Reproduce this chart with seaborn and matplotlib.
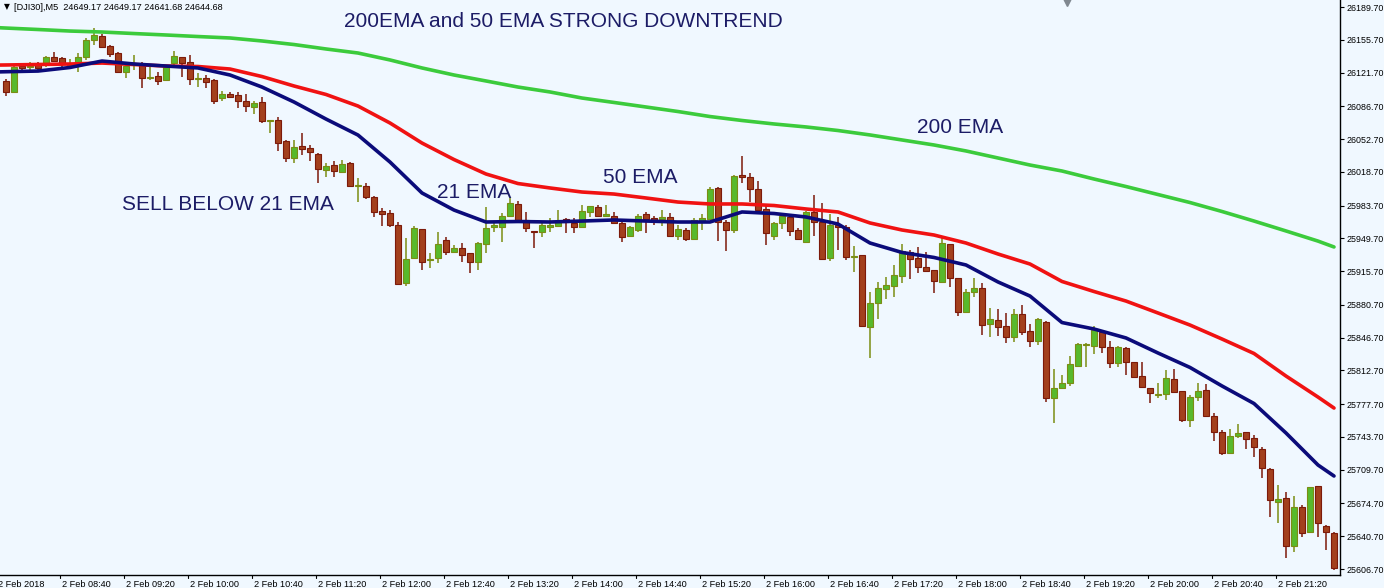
import numpy as np
import pandas as pd
import matplotlib
matplotlib.use("Agg")
import matplotlib.pyplot as plt
import matplotlib.transforms as mtransforms
import seaborn as sns

# ---------------- data (DJI30, M5, 2 Feb 2018) ----------------
opens = [26113.3, 26101.9, 26128.5, 26127.5, 26130.6, 26130.3, 26138.2, 26136.5, 26129.0, 26131.3,
         26137.6, 26155.5, 26159.7, 26149.3, 26141.7, 26122.0, 26129.8, 26129.6, 26116.3, 26118.2,
         26114.0, 26131.3, 26137.6, 26132.4, 26115.3, 26115.8, 26114.0, 26095.0, 26099.5, 26098.4,
         26092.2, 26086.3, 26090.9, 26071.0, 26072.5, 26050.7, 26032.8, 26045.5, 26043.2, 26036.9,
         26020.6, 26025.8, 26018.9, 26028.2, 26003.8, 26004.4, 25992.3, 25978.1, 25975.7, 25963.6,
         25903.1, 25929.0, 25959.1, 25927.5, 25929.0, 25948.0, 25935.3, 25939.4, 25934.2, 25924.9,
         25943.6, 25961.8, 25961.8, 25972.9, 25985.4, 25968.8, 25957.4, 25956.6, 25961.8, 25962.5,
         25969.5, 25965.9, 25961.2, 25977.4, 25981.9, 25973.4, 25973.2, 25965.9, 25952.5, 25958.4,
         25975.0, 25971.2, 25970.3, 25971.6, 25952.5, 25958.4, 25949.1, 25967.7, 25969.8, 26001.7,
         25967.0, 25958.4, 26015.5, 26013.7, 26000.6, 25979.9, 25952.5, 25965.4, 25972.2, 25958.4,
         25946.3, 25977.4, 25967.0, 25929.0, 25963.6, 25961.2, 25930.9, 25932.5, 25858.1, 25882.4,
         25897.2, 25900.6, 25911.0, 25935.9, 25929.0, 25919.7, 25916.9, 25904.8, 25943.9, 25908.3,
         25873.0, 25893.8, 25897.9, 25860.6, 25865.0, 25858.8, 25847.1, 25870.9, 25853.6, 25843.6,
         25863.3, 25783.8, 25794.8, 25799.4, 25817.6, 25839.3, 25838.4, 25852.9, 25836.7, 25820.1,
         25835.7, 25821.2, 25806.9, 25794.2, 25787.4, 25788.3, 25803.5, 25791.4, 25761.3, 25784.8,
         25792.4, 25765.7, 25748.5, 25727.4, 25745.0, 25748.5, 25742.3, 25730.9, 25710.1, 25676.5,
         25680.1, 25630.9, 25671.3, 25644.8, 25692.8, 25651.6, 25643.7]
highs = [26115.0, 26129.6, 26131.6, 26133.0, 26132.7, 26139.2, 26142.7, 26137.6, 26135.5, 26141.7,
         26157.6, 26168.3, 26161.7, 26150.3, 26143.4, 26131.3, 26139.9, 26133.0, 26127.8, 26122.6,
         26129.6, 26144.1, 26138.2, 26139.9, 26121.6, 26119.2, 26115.0, 26102.9, 26101.9, 26101.9,
         26099.5, 26092.2, 26096.7, 26072.5, 26075.3, 26051.8, 26051.8, 26058.7, 26046.6, 26038.0,
         26028.2, 26030.0, 26031.0, 26029.3, 26012.0, 26006.8, 25993.7, 25980.9, 25979.1, 25967.0,
         25949.8, 25962.6, 25959.1, 25934.2, 25956.6, 25951.4, 25942.8, 25945.2, 25934.8, 25946.3,
         25982.6, 25967.0, 25976.3, 25991.3, 25988.5, 25977.4, 25957.4, 25965.4, 25970.8, 25979.1,
         25970.5, 25970.5, 25984.3, 25983.3, 25984.3, 25984.3, 25977.4, 25968.8, 25962.5, 25974.7,
         25977.4, 25972.9, 25979.1, 25975.7, 25963.6, 25960.2, 25970.5, 25975.0, 26003.3, 26003.3,
         25968.8, 26015.5, 26035.2, 26017.2, 26009.5, 25984.3, 25967.0, 25975.7, 25974.0, 25960.2,
         25978.4, 25994.7, 25986.7, 25975.0, 25971.6, 25963.6, 25941.8, 25932.5, 25894.4, 25904.8,
         25909.3, 25922.1, 25943.9, 25937.7, 25940.4, 25935.9, 25916.9, 25949.8, 25943.9, 25908.3,
         25897.2, 25908.3, 25903.7, 25877.2, 25876.1, 25872.0, 25876.4, 25880.6, 25860.9, 25866.8,
         25864.3, 25814.2, 25808.0, 25827.7, 25841.2, 25840.9, 25858.8, 25854.7, 25843.6, 25838.1,
         25836.7, 25821.8, 25821.8, 25794.2, 25800.0, 25813.2, 25813.9, 25791.4, 25787.2, 25800.0,
         25798.6, 25768.9, 25750.9, 25751.6, 25757.1, 25749.2, 25745.7, 25733.0, 25711.2, 25693.9,
         25686.9, 25682.5, 25673.1, 25692.1, 25692.8, 25652.4, 25645.4]
lows = [26097.7, 26101.6, 26124.4, 26124.4, 26124.4, 26127.8, 26133.0, 26124.4, 26126.1, 26122.6,
        26134.8, 26150.3, 26147.2, 26138.2, 26121.0, 26116.4, 26124.4, 26105.4, 26114.0, 26108.8,
        26113.0, 26126.1, 26117.4, 26108.8, 26107.1, 26105.4, 26088.8, 26092.2, 26095.0, 26084.6,
        26081.1, 26078.7, 26069.1, 26059.3, 26040.4, 26029.2, 26027.6, 26036.2, 26030.3, 26006.8,
        26013.1, 26013.1, 26018.6, 26002.7, 25987.8, 25990.2, 25971.6, 25962.9, 25961.8, 25901.3,
        25900.3, 25928.3, 25916.9, 25918.7, 25923.9, 25932.5, 25934.2, 25925.5, 25913.5, 25916.9,
        25934.2, 25956.6, 25946.3, 25972.2, 25968.0, 25956.6, 25939.4, 25950.8, 25956.6, 25961.2,
        25955.6, 25955.6, 25960.2, 25972.2, 25972.2, 25972.2, 25965.3, 25946.3, 25951.4, 25956.6,
        25955.0, 25963.6, 25962.5, 25951.4, 25948.0, 25947.3, 25948.0, 25958.4, 25968.8, 25947.3,
        25936.9, 25955.6, 26007.5, 25987.8, 25977.4, 25942.8, 25948.0, 25959.1, 25952.2, 25948.0,
        25945.2, 25952.2, 25927.3, 25926.6, 25937.7, 25927.3, 25915.1, 25858.3, 25825.3, 25865.8,
        25886.5, 25888.6, 25903.7, 25907.3, 25913.5, 25915.1, 25892.7, 25903.1, 25899.0, 25869.5,
        25871.8, 25888.6, 25849.5, 25847.1, 25848.4, 25841.5, 25842.2, 25849.5, 25837.3, 25839.1,
        25780.3, 25757.9, 25794.2, 25796.6, 25816.8, 25816.0, 25829.8, 25830.5, 25814.9, 25816.6,
        25808.0, 25804.9, 25794.2, 25778.6, 25783.8, 25782.0, 25789.0, 25758.9, 25753.7, 25781.3,
        25764.7, 25739.8, 25725.0, 25726.0, 25742.3, 25730.9, 25722.6, 25700.8, 25661.0, 25654.1,
        25617.8, 25624.7, 25640.2, 25643.7, 25639.6, 25626.4, 25605.7]
closes = [26101.9, 26127.8, 26126.5, 26128.5, 26126.1, 26137.6, 26134.0, 26130.6, 26130.1, 26137.6,
          26155.5, 26160.7, 26148.6, 26140.7, 26122.0, 26128.5, 26130.8, 26115.8, 26117.3, 26113.0,
          26127.8, 26138.9, 26132.0, 26114.7, 26116.3, 26112.2, 26092.2, 26099.5, 26096.7, 26092.2,
          26087.3, 26090.5, 26071.8, 26072.0, 26048.3, 26032.8, 26044.2, 26042.4, 26039.0, 26021.4,
          26024.5, 26019.9, 26026.9, 26004.0, 26004.9, 25993.0, 25976.8, 25974.7, 25963.6, 25902.4,
          25928.3, 25960.8, 25925.5, 25928.5, 25943.6, 25935.9, 25940.0, 25932.5, 25924.9, 25944.6,
          25960.2, 25963.6, 25972.9, 25986.7, 25968.8, 25960.2, 25956.0, 25963.6, 25963.6, 25968.0,
          25967.0, 25961.8, 25978.4, 25983.3, 25973.2, 25974.5, 25965.9, 25951.4, 25961.2, 25972.9,
          25969.8, 25968.8, 25971.4, 25952.5, 25959.1, 25949.1, 25968.8, 25971.2, 26000.9, 25967.0,
          25958.4, 26014.4, 26013.1, 26000.6, 25979.1, 25955.0, 25965.4, 25972.9, 25957.7, 25949.1,
          25977.4, 25967.0, 25928.3, 25963.6, 25961.2, 25930.1, 25931.9, 25859.1, 25882.4, 25897.9,
          25901.3, 25911.7, 25936.9, 25928.3, 25919.7, 25916.2, 25905.8, 25944.6, 25908.3, 25873.0,
          25894.4, 25897.9, 25859.8, 25865.8, 25858.1, 25847.1, 25870.9, 25852.9, 25843.6, 25865.8,
          25783.8, 25794.2, 25800.0, 25819.4, 25840.1, 25840.3, 25854.7, 25836.7, 25820.1, 25836.7,
          25821.8, 25806.2, 25795.2, 25789.0, 25788.5, 25804.5, 25790.0, 25761.3, 25784.8, 25791.7,
          25765.4, 25748.5, 25726.7, 25745.0, 25747.5, 25741.6, 25733.0, 25711.2, 25678.3, 25679.0,
          25630.9, 25671.3, 25643.7, 25691.5, 25654.1, 25644.8, 25607.4]

# moving averages, sampled every 4 bars (bar index in ema_bars)
ema_bars = [-1] + list(range(0, 165, 4)) + [166]
ema200 = [26168.3, 26167.9, 26166.4, 26164.8, 26163.8, 26162.2, 26160.7, 26159.1, 26157.6, 26154.5,
          26150.8, 26146.2, 26142.0, 26134.8, 26126.5, 26119.2, 26113.0, 26106.7, 26101.6, 26095.3,
          26090.7, 26086.0, 26081.3, 26076.1, 26072.0, 26068.4, 26065.3, 26061.6, 26057.0, 26051.8,
          26046.6, 26040.4, 26033.1, 26025.8, 26019.6, 26011.3, 26003.5, 25995.2, 25986.9, 25977.6,
          25967.7, 25957.4, 25946.9, 25940.8]
ema50 = [26129.5, 26129.6, 26130.1, 26130.6, 26131.6, 26130.1, 26128.5, 26128.0, 26125.4, 26117.6,
         26107.8, 26099.0, 26087.0, 26069.4, 26048.6, 26031.5, 26016.5, 26006.6, 26002.0, 25997.8,
         25995.7, 25991.6, 25987.4, 25985.4, 25985.4, 25983.8, 25980.2, 25977.1, 25965.7, 25958.4,
         25953.2, 25944.9, 25933.5, 25923.1, 25905.0, 25894.6, 25884.7, 25872.3, 25859.8, 25845.3,
         25830.3, 25806.9, 25785.1, 25773.7]
ema21 = [26122.4, 26122.6, 26123.3, 26127.0, 26133.7, 26130.6, 26128.5, 26126.5, 26119.2, 26106.7,
         26091.2, 26073.5, 26056.9, 26028.9, 25996.8, 25979.1, 25966.7, 25967.2, 25966.7, 25967.7,
         25968.8, 25967.7, 25966.7, 25966.7, 25977.1, 25975.5, 25971.9, 25964.6, 25944.9, 25935.1,
         25929.9, 25922.1, 25904.5, 25889.9, 25862.4, 25855.7, 25846.4, 25830.8, 25815.8, 25796.6,
         25778.4, 25747.8, 25714.6, 25703.2]

time_tick_bars = [-1] + list(range(7, 160, 8))
time_tick_labels = ["2 Feb 2018", "2 Feb 08:40", "2 Feb 09:20", "2 Feb 10:00", "2 Feb 10:40",
                    "2 Feb 11:20", "2 Feb 12:00", "2 Feb 12:40", "2 Feb 13:20", "2 Feb 14:00",
                    "2 Feb 14:40", "2 Feb 15:20", "2 Feb 16:00", "2 Feb 16:40", "2 Feb 17:20",
                    "2 Feb 18:00", "2 Feb 18:40", "2 Feb 19:20", "2 Feb 20:00", "2 Feb 20:40",
                    "2 Feb 21:20"]
price_ticks = [26189.70, 26155.70, 26121.70, 26086.70, 26052.70, 26018.70, 25983.70, 25949.70,
               25915.70, 25880.70, 25846.70, 25812.70, 25777.70, 25743.70, 25709.70, 25674.70,
               25640.70, 25606.70]

header = "[DJI30],M5  24649.17 24649.17 24641.68 24644.68"
title_note = "200EMA and 50 EMA STRONG DOWNTREND"
notes = [("SELL BELOW 21 EMA", 14.5, 25985), ("21 EMA", 53.9, 25997), ("50 EMA", 74.6, 26013),
         ("200 EMA", 113.9, 26065)]

# ---------------- style ----------------
sns.set_theme(style="white")
plt.rcParams["font.family"] = ["Liberation Sans", "DejaVu Sans"]

BG = "#f0f8ff"
BULL_BODY, BULL_EDGE = "#58b92c", "#7b8d14"
BEAR_BODY, BEAR_EDGE = "#a3401d", "#7c1a0a"
NAVY_TXT = "#1c1c66"

fig = plt.figure(figsize=(13.84, 5.88), dpi=100, facecolor=BG)
ax = fig.add_axes([0, 13 / 588, 1340 / 1384, 575 / 588], facecolor=BG)

df = pd.DataFrame({"open": opens, "high": highs, "low": lows, "close": closes})
df["bar"] = np.arange(len(df))
df["bull"] = df["close"] >= df["open"]

# wicks
for bull, sub in df.groupby("bull"):
    ax.vlines(sub["bar"], sub["low"], sub["high"], color=BULL_EDGE if bull else BEAR_EDGE,
              lw=1.1, zorder=2)
# bodies
for bull, sub in df.groupby("bull"):
    h = (sub["close"] - sub["open"]).abs().clip(lower=0.9)
    bottom = np.minimum(sub["open"], sub["close"])
    ax.bar(sub["bar"], h, bottom=bottom, width=0.66,
           color=BULL_BODY if bull else BEAR_BODY,
           edgecolor=BULL_EDGE if bull else BEAR_EDGE, linewidth=0.8, zorder=3)

# EMAs
ema_df = pd.DataFrame({"bar": ema_bars, "ema200": ema200, "ema50": ema50, "ema21": ema21})
sns.lineplot(data=ema_df, x="bar", y="ema200", color="#3ccb3c", lw=2.6, ax=ax, zorder=4)
sns.lineplot(data=ema_df, x="bar", y="ema50", color="#f01212", lw=2.6, ax=ax, zorder=5)
sns.lineplot(data=ema_df, x="bar", y="ema21", color="#0b0b7a", lw=2.6, ax=ax, zorder=6)

ax.set_xlim(-0.75, 166.75)
ax.set_ylim(25600.5, 26197.0)
ax.set_xlabel("")
ax.set_ylabel("")

# axes frame
for s in ["left", "top"]:
    ax.spines[s].set_visible(False)
for s in ["right", "bottom"]:
    ax.spines[s].set_visible(True)
    ax.spines[s].set_color("black")
    ax.spines[s].set_linewidth(1.0)

# price axis on right
ax.yaxis.tick_right()
ax.set_yticks(price_ticks)
ax.set_yticklabels([f"{v:.2f}" for v in price_ticks], fontsize=6.4, color="black")
ax.tick_params(axis="y", direction="out", length=3, width=0.8, pad=1.5, colors="black",
               right=True, left=False)

# time axis
ax.set_xticks([])
trans = mtransforms.blended_transform_factory(ax.transData, ax.transAxes)
for b, lab in zip(time_tick_bars, time_tick_labels):
    ax.plot([b - 0.3, b - 0.3], [0, -0.006], color="black", lw=0.8, transform=trans,
            clip_on=False)
    ax.text(b - 0.05, -0.008, lab, transform=trans, ha="left", va="top", fontsize=6.6,
            color="black", clip_on=False)

# annotations
fig.text(4 / 1384, 1 - 7 / 588, "\u25bc", fontsize=5.5, color="black", va="center", ha="left",
         family=["DejaVu Sans"])
fig.text(14 / 1384, 1 - 7 / 588, header, fontsize=6.6, color="black", va="center", ha="left")
ax.text(42.3, 26175.0, title_note, fontsize=15, color=NAVY_TXT, va="center", ha="left")
for txt, xb, yp in notes:
    ax.text(xb, yp, txt, fontsize=15, color=NAVY_TXT, va="center", ha="left")

# chart-shift marker
ax.plot([0.796], [0.996], marker="v", color="#808890", ms=6, transform=ax.transAxes,
        clip_on=False)

fig.savefig("out.png", dpi=100, facecolor=BG)
